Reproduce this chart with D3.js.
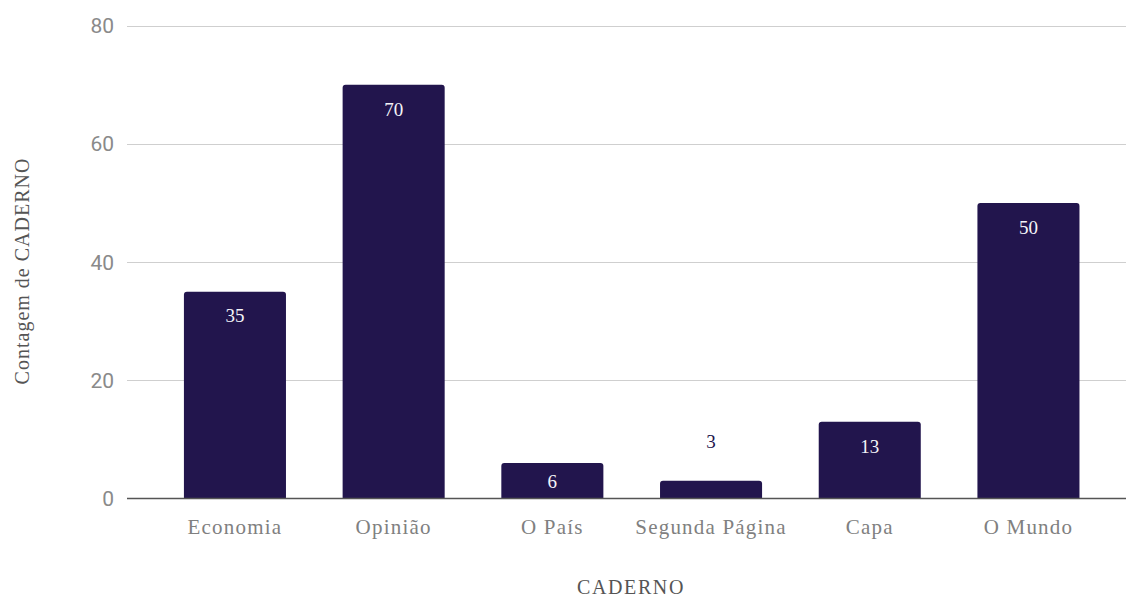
<!DOCTYPE html>
<html>
<head>
<meta charset="utf-8">
<script src="https://cdn.jsdelivr.net/npm/d3@7"></script>
<style>
  html, body { margin: 0; padding: 0; background: #fff; }
  svg { display: block; }
</style>
</head>
<body>
<svg id="chart" width="1126" height="600"></svg>
<script>
// Contagem de CADERNO por caderno
const categories = ["Economia", "Opinião", "O País", "Segunda Página", "Capa", "O Mundo"];
const counts = [35, 70, 6, 3, 13, 50];
const yTicks = [0, 20, 40, 60, 80];
const xTitle = "CADERNO";
const yTitle = "Contagem de CADERNO";

const svg = d3.select("#chart");
const gridLeft = 127, gridRight = 1126;
const barColor = "#22154d";
const serif = "'Liberation Serif', 'Times New Roman', serif";

const x = d3.scaleBand()
  .domain(categories)
  .range([155.6, 1107.8])
  .paddingInner(0.357)
  .paddingOuter(0.1785);

const y = d3.scaleLinear()
  .domain([0, 80])
  .range([498.5, 25.7]);

// Gridlines
svg.append("g")
  .selectAll("line")
  .data(yTicks.filter(d => d !== 0))
  .join("line")
  .attr("x1", gridLeft).attr("x2", gridRight)
  .attr("y1", d => Math.round(y(d)) + 0.5)
  .attr("y2", d => Math.round(y(d)) + 0.5)
  .attr("stroke", "#cfcfcf")
  .attr("stroke-width", 1);

// Y tick labels
svg.append("g")
  .selectAll("text")
  .data(yTicks)
  .join("text")
  .attr("x", 114)
  .attr("y", d => y(d))
  .attr("dy", "0.36em")
  .attr("text-anchor", "end")
  .attr("font-family", "Roboto, sans-serif")
  .attr("font-size", 21)
  .attr("fill", "#8a8a8a")
  .text(d => d);

// Bars with rounded top corners
const r = 3;
function barPath(d) {
  const x0 = x(d.cat), x1 = x0 + x.bandwidth();
  const y0 = y(0), y1 = y(d.value);
  return `M${x0},${y0} L${x0},${y1 + r} Q${x0},${y1} ${x0 + r},${y1} ` +
         `L${x1 - r},${y1} Q${x1},${y1} ${x1},${y1 + r} L${x1},${y0} Z`;
}
const rows = categories.map((c, i) => ({ cat: c, value: counts[i] }));

svg.append("g")
  .selectAll("path")
  .data(rows)
  .join("path")
  .attr("d", barPath)
  .attr("fill", barColor);

// Baseline
svg.append("line")
  .attr("x1", gridLeft).attr("x2", gridRight)
  .attr("y1", y(0)).attr("y2", y(0))
  .attr("stroke", "#555")
  .attr("stroke-width", 1.5);

// Value labels
svg.append("g")
  .selectAll("text")
  .data(rows)
  .join("text")
  .attr("x", d => x(d.cat) + x.bandwidth() / 2)
  .attr("y", d => {
    const h = y(0) - y(d.value);
    if (h >= 48) return y(d.value) + 24;
    if (h >= 30) return y(d.value) + h / 2;
    return y(d.value) - 40;
  })
  .attr("dy", "0.36em")
  .attr("text-anchor", "middle")
  .attr("font-family", serif)
  .attr("font-size", 19)
  .attr("fill", d => (y(0) - y(d.value)) >= 30 ? "#f4f4f8" : barColor)
  .text(d => d.value);

// Category labels
svg.append("g")
  .selectAll("text")
  .data(categories)
  .join("text")
  .attr("x", d => x(d) + x.bandwidth() / 2)
  .attr("y", 526)
  .attr("dy", "0.36em")
  .attr("text-anchor", "middle")
  .attr("font-family", serif)
  .attr("font-size", 21)
  .attr("letter-spacing", 1.2)
  .attr("fill", "#808080")
  .text(d => d);

// Axis titles
svg.append("text")
  .attr("x", 631).attr("y", 587)
  .attr("dy", "0.36em")
  .attr("text-anchor", "middle")
  .attr("font-family", serif)
  .attr("font-size", 20)
  .attr("letter-spacing", 1.6)
  .attr("fill", "#555")
  .text(xTitle);

svg.append("text")
  .attr("transform", "translate(22,271) rotate(-90)")
  .attr("dy", "0.36em")
  .attr("text-anchor", "middle")
  .attr("font-family", serif)
  .attr("font-size", 20)
  .attr("letter-spacing", 1)
  .attr("fill", "#555")
  .text(yTitle);
</script>
</body>
</html>
